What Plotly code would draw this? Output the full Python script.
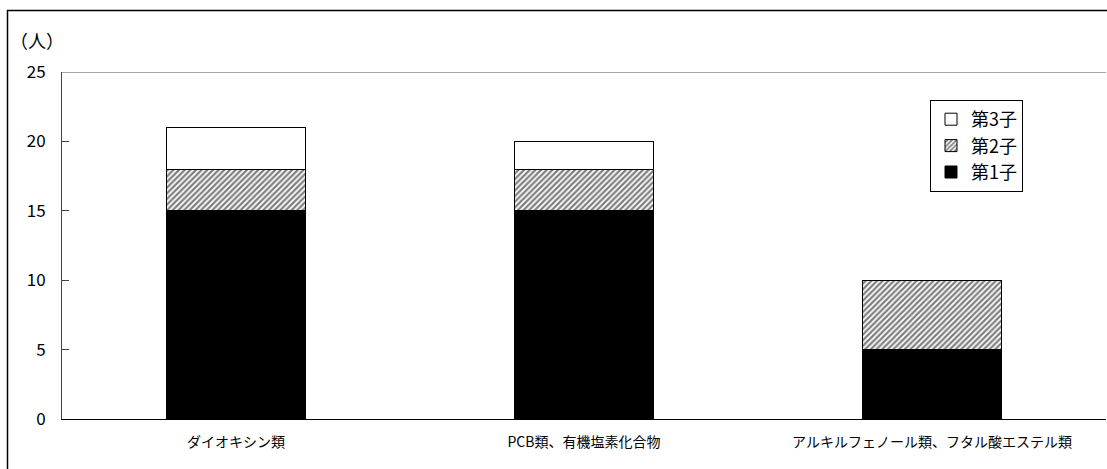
import plotly.graph_objects as go

categories = ["ダイオキシン類", "PCB類、有機塩素化合物", "アルキルフェノール類、フタル酸エステル類"]
first_child = [15, 15, 5]
second_child = [3, 3, 5]
third_child = [3, 2, 0]
series_names = ["第1子", "第2子", "第3子"]
y_ticks = [0, 5, 10, 15, 20, 25]

FONT = "Noto Sans CJK JP"
W, H = 1107, 469
L, R, T, B = 62, 1, 72, 50

fig = go.Figure()
fig.add_trace(go.Bar(
    x=categories, y=first_child, name=series_names[0],
    marker=dict(color="black", line=dict(color="black", width=1)),
    width=0.4,
))
fig.add_trace(go.Bar(
    x=categories, y=second_child, name=series_names[1],
    marker=dict(color="white", line=dict(color="black", width=1),
                pattern=dict(shape="/", fgcolor="black", bgcolor="white",
                             size=4, solidity=0.55, fillmode="overlay")),
    width=0.4,
))
fig.add_trace(go.Bar(
    x=categories, y=third_child, name=series_names[2],
    marker=dict(color="white", line=dict(color="black", width=1)),
    width=0.4,
))

pw = W - L - R
ph = H - T - B

fig.update_layout(
    width=W, height=H,
    barmode="stack",
    plot_bgcolor="white", paper_bgcolor="white",
    margin=dict(l=L, r=R, t=T, b=B, pad=0),
    font=dict(family=FONT, size=14, color="black"),
    showlegend=True,
    legend=dict(
        traceorder="reversed",
        x=(930 - L) / pw, y=1 - (100 - T) / ph, xanchor="left", yanchor="top",
        bgcolor="white", bordercolor="black", borderwidth=1,
        font=dict(family=FONT, size=18, color="black"),
        itemwidth=30, tracegroupgap=0,
    ),
    xaxis=dict(
        showline=True, linecolor="black", linewidth=1,
        ticks="", showgrid=False,
        tickfont=dict(family=FONT, size=14, color="black"),
        ticklabelstandoff=10,
        range=[-0.5, 2.5],
    ),
    yaxis=dict(
        range=[0, 25], tickvals=y_ticks,
        showline=True, linecolor="#444444", linewidth=1,
        ticks="inside", ticklen=7, tickcolor="#444444",
        showgrid=False, zeroline=False,
        tickfont=dict(family=FONT, size=17, color="black"),
        ticklabelstandoff=12,
    ),
    shapes=[
        dict(type="line", xref="paper", yref="y", x0=0, x1=1, y0=25, y1=25,
             line=dict(color="#888888", width=1.5)),
        dict(type="rect", xref="paper", yref="paper",
             x0=(7.5 - L) / pw, x1=(W + 20 - L) / pw,
             y0=-(H + 20 - T - ph) / ph, y1=1 + (T - 10.5) / ph,
             line=dict(color="black", width=1.5), fillcolor="rgba(0,0,0,0)", layer="below"),
    ],
    annotations=[
        dict(text="（人）", xref="paper", yref="paper",
             x=(8 - L) / pw, y=1 + (T - 40) / ph, xanchor="left", yanchor="middle",
             showarrow=False, font=dict(family=FONT, size=18, color="black")),
    ],
)

fig.write_html("out.html")
